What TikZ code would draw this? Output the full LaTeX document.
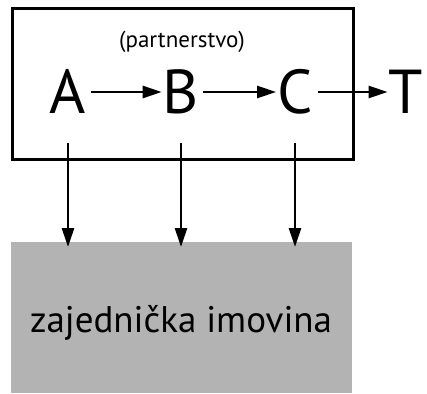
\documentclass[tikz,border=0pt]{standalone}
\usepackage{fontspec}
\setmainfont{PT Sans}
\usetikzlibrary{arrows.meta}
\definecolor{boxgray}{HTML}{B3B3B3}
\tikzset{
  letter/.style={font=\fontsize{62}{62}\selectfont, inner sep=0pt, anchor=base},
  conn/.style={line width=2.6pt, -{Triangle[length=19pt,width=12pt]}},
}
\begin{document}
\begin{tikzpicture}[x=1pt,y=-1pt]
\useasboundingbox (0,0) rectangle (427,393);
\node[draw, line width=3pt, minimum width=341pt, minimum height=151pt, inner sep=0pt, anchor=north west] (frame) at (11,7) {};
\node[fill=boxgray, minimum width=341pt, minimum height=151pt, inner sep=0pt, anchor=north west] (assets) at (11,242) {};
\node[font=\fontsize{23}{23}\selectfont, inner sep=0pt] (label) at (182,42) {(partnerstvo)};
\node[font=\fontsize{37}{37}\selectfont, inner sep=0pt, anchor=base] (assetlabel) at (181,332) {zajednička imovina};
\node[letter] (A) at (68,113) {A};
\node[letter] (B) at (181,113) {B};
\node[letter] (C) at (295,113) {C};
\node[letter] (T) at (406,113) {T};
\coordinate (a0) at (68,143);
\coordinate (b0) at (181,143);
\coordinate (c0) at (295,143);
\draw[conn] (A.east |- 0,92) ++(5,0) coordinate (ae) -- ([xshift=-1pt]ae -| B.west);
\draw[conn] (B.east |- 0,92) ++(4,0) coordinate (be) -- ([xshift=-1pt]be -| C.west);
\draw[conn] (C.east |- 0,92) ++(5,0) coordinate (ce) -- ([xshift=-1pt]ce -| T.west);
\draw[conn] (a0) -- ([yshift=-5pt]a0 |- assets.north);
\draw[conn] (b0) -- ([yshift=-5pt]b0 |- assets.north);
\draw[conn] (c0) -- ([yshift=-5pt]c0 |- assets.north);
\end{tikzpicture}
\end{document}
